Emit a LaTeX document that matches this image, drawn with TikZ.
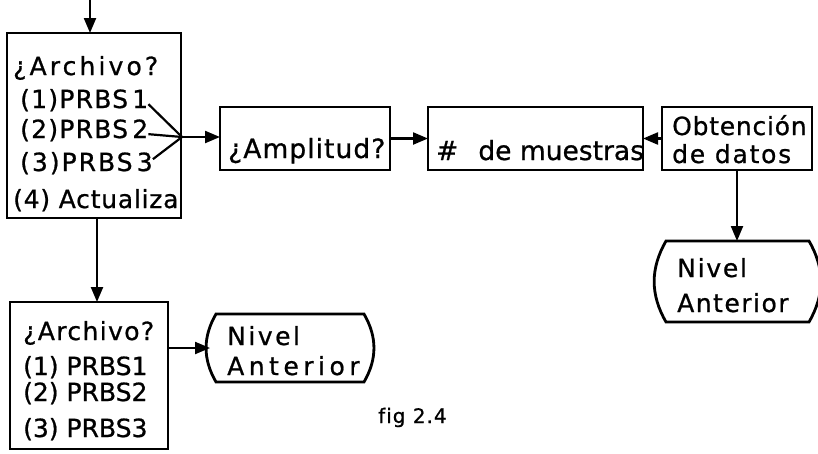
\documentclass[tikz,border=0pt]{standalone}
\usepackage{fontspec}
\setmainfont{DejaVu Sans}
\usetikzlibrary{arrows.meta,calc}
\begin{document}
\begin{tikzpicture}[x=1pt,y=-1pt,
  box/.style={draw,line width=2.8pt,inner sep=0pt,outer sep=0pt,anchor=north west},
  ghost/.style={inner sep=0pt,outer sep=0pt,anchor=north west},
  txt/.style={inner sep=0pt,anchor=base west,font=\fontsize{25}{30}\selectfont\addfontfeatures{LetterSpace=#1,FakeBold=0.8}},
  txt/.default=0,
  bigtxt/.style={inner sep=0pt,anchor=base west,font=\fontsize{26.5}{30}\selectfont\addfontfeatures{LetterSpace=#1,FakeBold=0.8}},
  bigtxt/.default=0,
  small/.style={inner sep=0pt,anchor=base west,font=\fontsize{20}{22}\selectfont\addfontfeatures{LetterSpace=5,FakeBold=0.8}},
  arr/.style={line width=2.2pt,-{Triangle[length=15pt,width=12pt]}},
  wire/.style={line width=2.2pt},
  outline/.style={line width=2.8pt}]

\useasboundingbox (0,0) rectangle (818,453);
\fill[white] (0,0) rectangle (818,453);

% boxes
\node[box,minimum width=174pt,minimum height=185pt] (b1) at (7,33) {};
\node[box,minimum width=170pt,minimum height=63pt] (amp) at (220,107) {};
\node[box,minimum width=215pt,minimum height=63pt] (mue) at (428,107) {};
\node[box,minimum width=150pt,minimum height=63pt] (obt) at (662,107) {};
\node[box,minimum width=158pt,minimum height=147pt] (b2) at (10,302) {};
\node[ghost,minimum width=155pt,minimum height=81pt] (n1) at (660,241) {};
\node[ghost,minimum width=160pt,minimum height=68pt] (n2) at (210,314) {};

% terminal outlines with bulging sides
\draw[outline] ([xshift=6pt]n1.north west) -- ([xshift=-6pt]n1.north east)
  to[out=-60,in=60] ([xshift=-6pt]n1.south east) -- ([xshift=6pt]n1.south west)
  to[out=120,in=-120] cycle;
\draw[outline] ([xshift=6pt]n2.north west) -- ([xshift=-6pt]n2.north east)
  to[out=-60,in=60] ([xshift=-6pt]n2.south east) -- ([xshift=6pt]n2.south west)
  to[out=120,in=-120] cycle;

% texts box 1
\node[txt=12.5] (a1) at (13,75) {¿Archivo?};
\node[txt=5] (p1) at (20,108) {(1)PRBS\,1};
\node[txt=5] (p2) at (20,138) {(2)PRBS\,2};
\node[txt=8] (p3) at (20,171) {(3)PRBS\,3};
\node[txt=3] (p4) at (13,208) {(4) Actualiza};

% texts middle row
\node[bigtxt=4] (tamp) at (228,158) {¿Amplitud?};
\node[bigtxt] (tmue) at (436,160) {\#\hspace{20pt}de muestras};
\node[txt=3] (tob1) at (672,135) {Obtención};
\node[txt=7] (tob2) at (672,163) {de datos};

% Nivel right
\node[txt=7] (tn1a) at (677,277) {Nivel};
\node[txt=6] (tn1b) at (677,312) {Anterior};

% box 2
\node[txt=5.5] (a2) at (23,340) {¿Archivo?};
\node[txt] (q1) at (23,375) {(1) PRBS1};
\node[txt] (q2) at (23,401) {(2) PRBS2};
\node[txt] (q3) at (23,437) {(3) PRBS3};

% Nivel 2
\node[txt=10] (tn2a) at (227,345) {Nivel};
\node[txt=18] (tn2b) at (227,375) {Anterior};

% caption
\node[small] (cap) at (378,423) {f\kern1pt ig 2.4};

% connectors
\coordinate (in) at (90,0);
\draw[arr] (in) -- (in |- b1.north);
\coordinate (conv) at (182,137);
\draw[wire] ([yshift=-4pt]p1.east) -- (conv);
\draw[wire] ([yshift=-4pt]p2.east) -- (conv);
\draw[wire] ([yshift=4pt]p3.east) -- (conv);
\draw[arr] (conv) -- (conv -| amp.west);
\draw[arr] (amp.east) -- (mue.west);
\draw[arr] (obt.west) -- (mue.east);
\draw[arr] (obt.south) -- (obt.south |- n1.north);
\draw[arr] ([xshift=3pt]b1.south) -- ([xshift=3pt]b1.south |- b2.north);
\draw[arr] (b2.east |- n2.west) -- (n2.west);
\end{tikzpicture}
\end{document}
